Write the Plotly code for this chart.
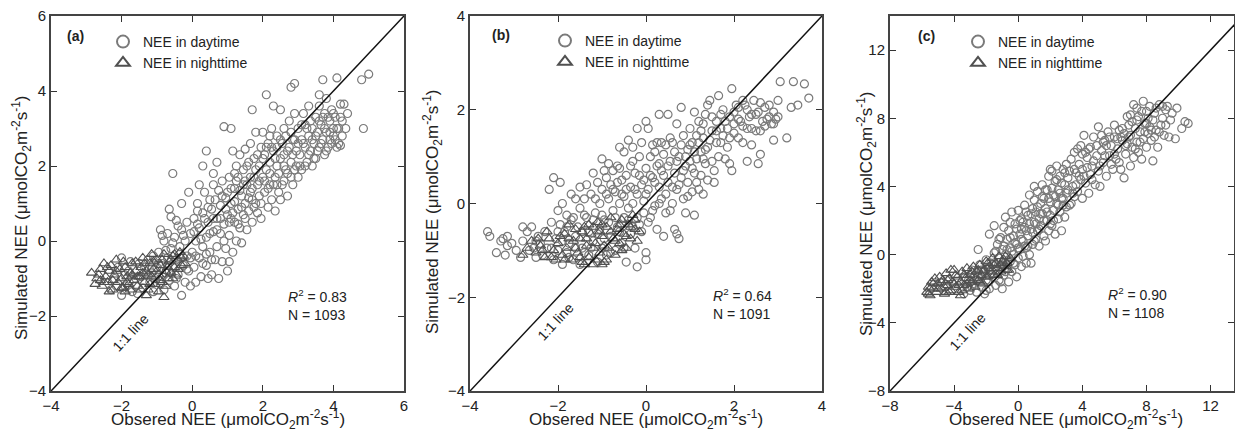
import plotly.graph_objects as go

W, H = 1235, 434
FONT = "Liberation Sans, Arial, sans-serif"

# ---------------- data ----------------
a_day = [
    (-2.3,-1.3),(-2.2,-1.0),(-2.0,-1.45),(-2.0,-0.45),(-1.9,-1.2),(-1.8,-0.8),(-1.7,-1.35),(-1.6,-1.0),(-1.5,-0.6),(-1.4,-1.25),
    (-1.3,-0.9),(-1.2,-1.1),(-1.1,-0.4),(-1.1,-1.35),(-1.0,-0.7),(-2.1,-0.7),(-1.75,-0.55),(-1.55,-1.4),(-1.25,-0.5),(-1.05,-1.0),
    (-0.95,-0.3),(-0.9,-1.15),(-0.9,0.3),(-0.85,-0.6),(-0.8,0.0),(-0.8,-1.3),(-0.75,-0.85),(-0.7,0.2),(-0.7,-0.45),(-0.65,-1.05),
    (-0.6,0.65),(-0.6,-0.2),(-0.55,-0.7),(-0.5,0.1),(-0.5,-1.2),(-0.45,-0.5),(-0.4,0.4),(-0.4,-0.9),(-0.35,-0.15),(-0.3,-1.45),
    (-0.3,0.3),(-0.25,-0.65),(-0.2,0.0),(-0.2,-1.1),(-0.15,0.5),(-0.15,-0.4),(-0.1,-0.8),(-0.05,0.2),(-0.05,-1.2),(0.0,-0.3),
    (-0.55,1.8),(-0.3,1.0),(-0.65,0.85),(-0.1,1.3),(-0.85,0.15),(-0.45,0.55),
    (0.05,0.6),(0.05,-0.7),(0.1,0.0),(0.1,-1.1),(0.15,1.0),(0.2,0.35),(0.2,-0.45),(0.25,-0.95),(0.3,2.0),(0.3,0.75),
    (0.3,-0.15),(0.35,1.3),(0.4,2.4),(0.4,0.1),(0.4,-0.65),(0.45,0.5),(0.5,1.1),(0.5,-0.3),(0.55,0.85),(0.55,-0.9),
    (0.6,0.25),(0.6,1.8),(0.65,-0.5),(0.7,2.1),(0.7,0.6),(0.7,-0.15),(0.75,1.35),(0.75,-1.0),(0.8,0.95),(0.8,0.2),
    (0.85,-0.55),(0.85,1.6),(0.9,3.05),(0.9,0.45),(0.95,-0.2),(0.95,1.15),(1.0,-0.8),(1.0,0.7),(0.2,1.5),(0.6,1.5),
    (0.15,0.8),(0.45,-1.0),
    (1.05,1.7),(1.05,0.15),(1.1,3.0),(1.1,1.0),(1.15,-0.3),(1.15,2.4),(1.2,0.5),(1.2,1.4),(1.25,0.0),(1.25,2.0),
    (1.3,0.85),(1.3,1.7),(1.35,0.35),(1.35,2.3),(1.4,1.2),(1.4,-0.05),(1.45,0.7),(1.45,1.9),(1.5,2.45),(1.5,1.0),
    (1.55,0.3),(1.55,1.5),(1.6,2.1),(1.6,0.8),(1.65,1.3),(1.65,2.6),(1.7,3.5),(1.7,0.5),(1.75,1.7),(1.75,2.2),
    (1.8,1.0),(1.8,2.9),(1.85,1.5),(1.85,0.75),(1.9,2.0),(1.9,1.2),(1.95,2.5),(1.95,0.6),(2.0,1.7),(2.0,2.9),
    (1.1,0.6),(1.5,1.6),(1.2,1.8),(1.7,1.1),
    (2.05,1.3),(2.05,2.3),(2.1,3.9),(2.1,1.9),(2.15,0.9),(2.15,2.6),(2.2,1.5),(2.2,2.1),(2.25,3.0),(2.25,1.1),
    (2.3,3.6),(2.3,2.4),(2.35,1.7),(2.35,0.8),(2.4,2.0),(2.4,2.8),(2.45,1.3),(2.5,3.5),(2.5,2.2),(2.5,1.1),
    (2.55,2.6),(2.6,1.6),(2.6,3.0),(2.65,1.9),(2.7,2.4),(2.7,1.2),(2.75,3.2),(2.8,4.1),(2.8,2.1),(2.85,1.5),
    (2.85,2.7),(2.9,4.2),(2.9,3.4),(2.9,1.9),(2.95,2.4),(3.0,1.7),(3.0,3.0),(2.2,2.8),(2.6,2.3),(2.4,1.5),(2.8,2.9),
    (3.05,2.3),(3.1,2.7),(3.1,1.9),(3.15,3.4),(3.2,2.5),(3.2,3.1),(3.25,2.1),(3.3,2.8),(3.3,3.6),(3.35,2.4),
    (3.4,3.0),(3.45,2.6),(3.5,3.3),(3.5,2.2),(3.55,2.9),(3.6,3.6),(3.6,2.5),(3.65,3.1),(3.7,4.3),(3.7,2.7),
    (3.75,3.4),(3.75,2.3),(3.8,3.8),(3.8,2.9),(3.85,2.5),(3.9,3.2),(3.9,2.7),(3.95,3.5),(4.0,2.8),(4.0,3.0),
    (3.4,2.0),(3.6,3.9),
    (4.05,3.3),(4.1,4.35),(4.1,2.5),(4.15,3.0),(4.2,3.65),(4.2,2.55),(4.25,3.2),(4.3,3.65),(4.35,3.0),(4.4,3.4),
    (4.8,4.3),(4.85,3.0),(5.0,4.45),(4.25,2.8),
    (-1.9,-0.9),(-1.6,-1.2),(-1.35,-0.7),(-1.15,-0.85),(-0.95,-0.6),(-0.85,-0.95),(-0.75,-0.25),(-0.65,-0.8),(-0.55,-0.05),(-0.45,-1.0),
    (-0.35,-0.35),(-0.25,0.15),(-0.15,-0.75),(-0.05,-0.45),(0.05,0.25),(0.1,-0.4),(0.15,0.45),(0.25,0.05),(0.3,-0.6),(0.35,0.6),
    (0.45,0.9),(0.5,0.2),(0.55,-0.5),(0.6,0.6),(0.65,1.1),(0.7,0.3),(0.8,0.6),(0.85,1.2),(0.9,0.0),(0.95,0.85),
    (1.0,1.3),(1.05,0.5),(1.1,1.4),(1.15,0.75),(1.2,1.05),(1.25,1.6),(1.3,0.45),(1.35,1.35),(1.4,0.9),(1.45,1.5),
    (1.5,0.6),(1.55,2.0),(1.6,1.15),(1.65,1.7),(1.7,1.4),(1.75,0.9),(1.8,1.9),(1.85,2.3),(1.9,1.6),(1.95,1.0),
    (2.0,2.2),(2.05,1.6),(2.1,2.5),(2.15,1.4),(2.2,1.8),(2.25,2.5),(2.3,1.5),(2.35,2.2),(2.4,2.5),(2.45,1.8),
    (2.5,2.7),(2.55,1.5),(2.6,2.0),(2.65,2.8),(2.7,1.8),(2.75,2.5),(2.8,1.7),(2.85,2.3),(2.9,2.7),(2.95,2.0),
    (3.0,2.6),(3.05,2.0),(3.1,3.1),(3.15,2.6),(3.2,2.0),(3.25,3.0),(3.3,2.3),(3.35,3.2),(3.4,2.7),(3.45,2.2),
    (3.5,2.8),(3.55,2.4),(3.6,3.2),(3.65,2.6),(3.7,3.3),(3.75,3.0),(3.8,2.4),(3.85,3.3),(3.9,2.9),(3.95,2.6),
    (4.0,3.4),(4.05,2.7),(4.1,3.0),(4.15,2.6),(4.2,3.3),(1.05,-0.55),(0.4,-0.35),(-0.7,-0.65),(-1.45,-0.95),(-2.15,-1.2),
]
a_night = [
    (-2.85,-0.85),(-2.75,-1.15),(-2.7,-1.0),(-2.6,-0.75),(-2.55,-1.2),(-2.5,-0.6),(-2.45,-0.95),(-2.4,-1.1),(-2.35,-0.8),(-2.3,-0.65),
    (-2.25,-1.3),(-2.2,-0.9),(-2.1,-1.1),(-2.05,-0.75),(-2.0,-1.0),(-1.95,-1.25),(-1.9,-0.7),(-1.85,-0.95),(-1.8,-1.15),(-1.75,-0.85),
    (-1.7,-0.6),(-1.65,-1.05),(-1.6,-0.8),(-1.55,-1.2),(-1.5,-0.95),(-1.45,-0.7),(-1.4,-0.45),(-1.35,-1.1),(-1.3,-0.8),(-1.25,-1.3),
    (-1.2,-0.6),(-1.15,-0.95),(-1.1,-0.75),(-1.05,-1.15),(-1.0,-0.5),(-0.95,-0.9),(-0.9,-0.65),(-0.85,-1.1),(-0.8,-1.5),(-0.8,-0.35),
    (-0.75,-0.8),(-0.7,-1.0),(-0.65,-0.55),(-0.6,-0.85),(-0.55,-0.4),(-0.5,-0.7),(-0.45,-0.9),(-0.4,-0.5),(-0.35,-0.3),(-0.3,-0.65),
    (-0.25,-0.4),(-1.3,-1.45),(-0.95,-1.35),(-2.15,-0.5),(-1.15,-0.35),
    (-2.65,-0.9),(-2.5,-1.1),(-2.4,-0.7),(-2.25,-1.05),(-2.15,-0.8),(-2.0,-1.25),(-1.95,-0.55),(-1.85,-1.1),(-1.75,-1.3),(-1.7,-0.9),
    (-1.6,-0.55),(-1.55,-0.95),(-1.45,-1.3),(-1.4,-0.85),(-1.35,-0.6),(-1.25,-0.9),(-1.2,-1.15),(-1.1,-0.55),(-1.0,-0.8),(-0.9,-1.05),
    (-0.85,-0.5),(-0.75,-1.2),(-0.7,-0.7),(-0.6,-0.5),(-0.55,-1.0),(-0.5,-0.35),(-0.4,-0.75),(-0.3,-0.45),(-0.2,-0.6),(-2.6,-1.05),
    (-2.35,-1.35),(-1.9,-1.35),
]

b_day = [
    (-3.6,-0.6),(-3.55,-0.7),(-3.4,-1.05),(-3.3,-0.8),(-3.25,-0.75),(-3.2,-1.1),(-3.15,-0.7),(-3.15,-0.9),(-2.95,-1.0),(-2.85,-1.15),
    (-2.8,-0.8),(-2.8,-0.5),(-2.7,-0.6),(-2.6,-0.5),(-2.55,-0.95),(-2.5,-1.15),(-2.45,-0.7),(-2.4,-0.85),(-2.35,-1.1),(-2.3,-0.6),(-2.25,-0.95),
    (-2.2,0.3),(-2.15,-0.4),(-2.1,0.55),(-2.1,-1.2),(-2.05,-0.75),(-2.0,-1.0),(-1.95,0.45),(-1.95,-0.45),(-1.9,-1.3),(-1.85,-0.6),
    (-1.8,-0.25),(-1.8,-1.05),(-1.75,-0.85),(-1.7,-0.35),(-1.65,-1.2),(-1.6,0.1),(-1.6,-0.7),(-1.55,-0.5),(-1.5,-1.3),(-1.5,0.35),
    (-1.45,-0.95),(-1.4,0.1),(-1.4,-0.25),(-1.35,0.4),(-1.3,-0.6),(-1.3,-1.1),(-1.25,0.2),(-1.2,-0.8),(-1.2,0.65),(-1.15,-0.2),
    (-1.1,-1.25),(-1.1,0.45),(-1.05,0.0),(-1.05,-0.55),(-1.0,0.95),(-1.0,-0.95),(-1.0,0.3),(-1.9,0.0),(-1.7,0.2),(-2.0,-0.15),
    (-0.95,0.7),(-0.95,-0.35),(-0.9,0.55),(-0.9,-1.1),(-0.85,0.1),(-0.85,0.85),(-0.8,-0.7),(-0.8,0.4),(-0.75,-0.15),(-0.75,0.7),
    (-0.7,-1.0),(-0.7,0.25),(-0.65,0.8),(-0.65,-0.5),(-0.6,0.75),(-0.6,0.0),(-0.55,-0.85),(-0.55,0.5),(-0.5,0.15),(-0.5,-0.3),
    (-0.45,-1.25),(-0.45,0.6),(-0.4,1.35),(-0.4,-0.1),(-0.35,0.35),(-0.35,-0.65),(-0.3,1.2),(-0.3,0.0),(-0.25,0.65),(-0.25,-0.95),
    (-0.2,1.6),(-0.2,0.2),(-0.2,-1.35),(-0.15,1.0),(-0.15,-0.45),(-0.1,1.3),(-0.1,0.4),(-0.05,-0.2),(-0.05,0.05),(0.0,1.75),
    (0.0,-1.05),(0.0,-1.2),(0.0,0.75),(-0.6,1.2),(-0.5,1.1),(-0.3,0.9),
    (0.05,0.3),(0.05,1.6),(0.1,-0.3),(0.1,1.0),(0.15,0.55),(0.15,1.25),(0.2,-0.05),(0.2,1.1),(0.25,0.8),(0.25,-0.55),
    (0.3,1.9),(0.3,0.35),(0.35,0.1),(0.35,1.3),(0.4,0.6),(0.4,-0.7),(0.45,1.25),(0.45,0.2),(0.5,1.9),(0.5,0.45),
    (0.55,-0.15),(0.55,0.9),(0.6,1.3),(0.6,0.0),(0.65,0.65),(0.65,-0.55),(0.7,1.7),(0.7,0.3),(0.75,1.0),(0.75,-0.75),
    (0.8,2.05),(0.8,0.55),(0.85,0.1),(0.85,1.45),(0.9,0.8),(0.9,-0.2),(0.95,1.15),(0.95,0.45),(1.0,0.9),(1.0,1.6),
    (0.7,-0.65),(0.3,0.85),
    (1.05,0.25),(1.05,1.3),(1.1,1.95),(1.1,-0.25),(1.1,0.65),(1.15,1.45),(1.15,0.95),(1.2,0.3),(1.2,1.75),(1.25,1.1),
    (1.25,0.6),(1.3,1.4),(1.3,0.2),(1.35,1.9),(1.35,0.85),(1.4,2.1),(1.4,1.2),(1.45,2.2),(1.5,0.9),(1.5,1.55),
    (1.55,0.45),(1.55,0.7),(1.6,1.3),(1.65,1.0),(1.7,1.6),(1.7,1.9),(1.75,1.45),(1.8,0.95),(1.8,1.75),(1.85,1.2),
    (1.9,1.85),(1.9,0.85),(1.95,2.45),(1.95,0.7),(2.0,1.7),(2.0,1.95),(1.3,0.95),(1.6,1.75),
    (2.05,2.1),(2.1,1.4),(2.15,1.75),(2.2,1.3),(2.25,2.1),(2.3,0.9),(2.3,1.6),(2.35,1.85),(2.4,1.25),(2.45,2.2),
    (2.5,1.55),(2.55,1.95),(2.55,0.85),(2.6,1.05),(2.65,1.75),(2.7,2.05),(2.75,1.8),(2.8,2.1),(2.85,1.7),(2.9,1.35),
    (2.9,1.95),(2.95,1.8),(3.0,2.2),(3.0,1.85),(3.05,2.6),(3.2,1.4),(3.3,2.05),(3.35,2.6),(3.45,2.1),(3.6,2.55),
    (3.7,2.25),(2.4,1.6),(2.1,1.8),
    (-2.15,-0.95),(-2.0,-0.6),(-1.9,-0.8),(-1.8,-0.5),(-1.75,-1.15),(-1.65,-0.3),(-1.6,-0.95),(-1.5,-0.1),(-1.45,-0.6),(-1.4,-1.05),
    (-1.35,-0.3),(-1.25,-0.95),(-1.2,-0.35),(-1.15,0.1),(-1.1,-0.65),(-1.0,-0.25),(-0.95,-0.75),(-0.9,0.2),(-0.85,-0.4),(-0.8,-1.05),
    (-0.75,0.3),(-0.7,-0.3),(-0.65,0.45),(-0.6,-0.6),(-0.55,0.2),(-0.5,-0.95),(-0.45,0.3),(-0.4,-0.35),(-0.35,0.8),(-0.3,-0.5),
    (-0.25,0.3),(-0.2,-0.3),(-0.15,0.6),(-0.1,-0.6),(-0.05,0.5),(0.0,0.2),(0.05,-0.4),(0.1,0.6),(0.15,-0.15),(0.2,0.45),
    (0.25,1.3),(0.3,0.0),(0.35,0.7),(0.4,1.05),(0.45,-0.2),(0.5,0.8),(0.55,1.4),(0.6,0.35),(0.65,1.1),(0.7,0.9),
    (0.75,0.4),(0.8,1.25),(0.85,0.7),(0.9,1.0),(0.95,0.15),(1.0,1.25),(1.05,0.75),(1.1,1.1),(1.15,0.45),(1.2,1.3),
    (1.25,1.55),(1.3,1.7),(1.35,1.15),(1.4,0.5),(1.45,1.35),(1.5,1.85),(1.6,1.55),(1.7,1.3),(1.75,2.0),(1.85,1.6),
    (1.9,1.4),(2.0,1.5),(2.1,2.05),(2.2,1.65),(2.3,2.0),(2.4,1.9),(2.5,1.9),(2.6,1.55),(2.7,1.65),(2.8,1.85),
    (2.9,1.7),(2.2,2.2),(2.6,2.15),(1.65,2.3),(-2.5,-0.8),(-2.65,-1.0),(-3.05,-0.85),
]
b_night = [
    (-2.8,-1.1),(-2.6,-0.8),(-2.5,-1.05),(-2.4,-0.9),(-2.3,-1.15),(-2.2,-0.75),(-2.1,-1.0),(-2.0,-0.85),(-1.9,-1.1),(-1.85,-0.65),
    (-1.8,-0.95),(-1.7,-1.2),(-1.65,-0.8),(-1.6,-0.55),(-1.55,-1.05),(-1.5,-0.75),(-1.45,-1.25),(-1.4,-0.5),(-1.35,-0.9),(-1.3,-1.15),
    (-1.25,-0.65),(-1.2,-1.3),(-1.15,-0.85),(-1.1,-0.4),(-1.05,-1.05),(-1.0,-0.7),(-0.95,-1.25),(-0.9,-0.5),(-0.85,-0.95),(-0.8,-0.3),
    (-0.75,-0.75),(-0.7,-1.1),(-0.65,-0.55),(-0.6,-0.85),(-0.55,-0.35),(-0.5,-0.65),(-0.45,-0.95),(-0.4,-0.45),(-0.35,-0.75),(-0.3,-0.25),
    (-0.25,-0.55),(-0.2,-0.8),(-1.0,-1.3),(-1.2,-0.5),(-1.75,-0.45),(-2.05,-1.2),
    (-2.7,-0.95),(-2.45,-0.75),(-2.35,-1.0),(-2.25,-0.6),(-2.15,-1.15),(-1.95,-0.7),(-1.85,-1.2),(-1.75,-0.75),(-1.6,-0.95),(-1.5,-1.15),
    (-1.45,-0.6),(-1.35,-0.75),(-1.3,-0.45),(-1.2,-0.95),(-1.15,-1.2),(-1.05,-0.6),(-0.95,-0.9),(-0.9,-1.2),(-0.8,-0.6),(-0.7,-0.8),
    (-0.6,-0.45),(-0.55,-1.0),(-0.45,-0.7),(-0.35,-0.5),(-0.25,-0.35),(-0.15,-0.6),(-1.4,-1.3),(-1.0,-0.45),
]

c_day = [
    (-3.4,-2.3),(-3.2,-1.9),(-3.1,-1.5),(-3.0,-2.1),(-2.9,-0.9),(-2.8,-1.7),(-2.6,-2.2),(-2.5,0.3),(-2.5,-1.3),(-2.4,-0.6),
    (-2.3,-1.9),(-2.2,-1.0),(-2.1,-2.3),(-2.0,-0.3),(-2.0,-1.5),(-1.9,-0.8),(-1.8,1.2),(-1.8,-2.0),(-1.7,-0.5),(-1.6,-1.3),
    (-1.5,1.7),(-1.5,0.1),(-1.4,-1.8),(-1.4,-0.9),(-1.3,0.6),(-1.2,-0.2),(-1.2,-1.5),(-1.1,1.0),(-1.1,-0.7),(-1.0,-2.0),
    (-1.0,0.3),(-2.7,-1.2),(-3.3,-1.3),
    (-0.9,1.6),(-0.9,-1.2),(-0.8,0.0),(-0.8,2.2),(-0.7,-0.8),(-0.7,0.9),(-0.6,-1.6),(-0.6,1.4),(-0.5,0.4),(-0.5,-0.4),
    (-0.4,2.5),(-0.4,-1.0),(-0.3,1.1),(-0.3,0.0),(-0.2,-0.6),(-0.2,1.8),(-0.1,0.6),(-0.1,-1.3),(0.0,2.6),(0.0,-0.2),
    (0.1,1.2),(0.1,0.3),(0.2,-0.7),(0.2,2.1),(0.3,0.8),(0.3,-0.1),(0.4,1.6),(0.4,2.9),(0.5,0.4),(0.5,-0.5),
    (0.6,2.3),(0.6,1.1),(0.7,3.5),(0.7,0.0),(0.8,1.5),(0.8,-0.5),(0.9,2.7),(0.9,0.6),(1.0,1.9),(1.0,3.2),(-0.5,1.9),(0.2,1.5),
    (1.1,0.9),(1.1,2.5),(1.2,3.7),(1.2,1.4),(1.3,2.1),(1.3,0.5),(1.4,3.0),(1.4,1.7),(1.5,2.4),(1.5,4.1),
    (1.6,1.1),(1.6,3.3),(1.7,2.7),(1.7,0.8),(1.8,3.8),(1.8,2.0),(1.9,4.6),(1.9,1.4),(2.0,3.1),(2.0,2.3),
    (2.1,4.9),(2.1,1.7),(2.2,3.5),(2.2,2.6),(2.3,4.3),(2.3,1.2),(2.4,3.0),(2.4,5.2),(2.5,2.1),(2.5,3.8),
    (2.6,4.6),(2.6,2.5),(2.7,1.4),(2.7,3.3),(2.8,5.0),(2.8,2.9),(2.9,4.1),(2.9,2.2),(3.0,3.6),(3.0,5.3),(1.0,4.0),(2.0,5.0),
    (3.1,4.5),(3.2,2.9),(3.3,3.0),(3.3,5.6),(3.4,4.0),(3.5,6.0),(3.5,3.4),(3.6,4.8),(3.7,3.7),(3.8,5.3),
    (3.9,4.4),(3.9,6.4),(4.0,3.3),(4.0,5.0),(4.1,7.0),(4.2,4.2),(4.3,5.7),(4.4,3.6),(4.5,6.3),(4.5,4.7),
    (4.6,5.2),(4.7,6.9),(4.8,4.1),(4.9,5.8),(5.0,7.5),(5.0,4.9),(5.1,4.0),(5.2,6.1),(5.3,5.4),(5.4,6.7),
    (5.5,4.6),(5.6,7.2),(5.7,5.8),(5.8,6.4),(5.9,5.0),(6.0,7.6),(6.0,6.9),(4.2,6.0),(3.7,6.2),(5.3,6.6),
    (6.1,5.6),(6.2,6.2),(6.3,7.3),(6.4,5.0),(6.5,6.7),(6.6,4.5),(6.6,7.1),(6.7,5.9),(6.8,6.5),(6.9,7.6),
    (7.0,5.2),(7.0,7.0),(7.1,6.3),(7.2,8.8),(7.2,5.7),(7.3,7.4),(7.4,6.6),(7.5,8.1),(7.5,6.0),(7.6,7.2),
    (7.7,5.6),(7.8,9.0),(7.8,6.8),(7.9,7.7),(8.0,8.4),(8.0,6.3),(8.1,7.1),(8.2,8.7),(8.3,6.7),(8.4,5.5),
    (8.4,7.9),(8.5,8.3),(8.6,7.3),(8.7,6.3),(8.8,8.8),(8.9,7.6),(9.0,8.0),(9.1,7.0),(9.2,8.5),(9.3,8.7),
    (9.4,6.9),(9.5,7.9),(9.8,6.8),(9.9,8.6),(10.2,7.4),(10.4,7.8),(10.6,7.7),(8.2,7.5),(7.0,8.2),(6.4,6.9),
    (-2.9,-1.9),(-2.6,-1.5),(-2.3,-0.9),(-2.0,-2.1),(-1.9,-1.6),(-1.7,-1.2),(-1.6,-0.6),(-1.4,0.2),(-1.3,-1.1),(-1.2,0.9),
    (-1.1,-1.6),(-1.0,-0.6),(-0.9,0.5),(-0.8,-1.0),(-0.7,0.3),(-0.6,-0.3),(-0.5,1.0),(-0.4,0.2),(-0.3,-0.5),(-0.2,0.7),
    (-0.1,1.5),(0.0,0.4),(0.1,2.0),(0.2,0.9),(0.3,1.9),(0.4,0.5),(0.5,1.4),(0.5,2.5),(0.6,0.5),(0.7,1.8),
    (0.8,2.4),(0.9,1.3),(1.0,0.8),(1.1,1.8),(1.2,2.8),(1.3,1.5),(1.4,2.4),(1.5,3.4),(1.6,2.0),(1.7,3.8),
    (1.8,2.5),(1.9,3.3),(2.0,1.8),(2.1,3.9),(2.2,2.0),(2.3,3.4),(2.4,4.4),(2.5,2.9),(2.6,3.6),(2.7,4.2),
    (2.8,3.3),(2.9,4.8),(3.0,2.8),(3.1,3.8),(3.2,4.9),(3.4,3.6),(3.5,5.0),(3.6,4.1),(3.8,4.6),(4.0,5.9),
    (4.1,4.6),(4.3,5.1),(4.4,6.2),(4.6,4.4),(4.7,5.5),(4.9,6.4),(5.1,5.2),(5.2,7.0),(5.4,5.8),(5.5,6.4),
    (5.7,6.9),(5.8,5.3),(6.0,5.9),(6.2,6.8),(6.3,5.4),(6.5,7.4),(6.7,6.4),(6.9,6.9),(7.1,7.8),(7.3,6.2),
    (7.4,7.9),(7.6,6.6),(7.7,8.4),(7.9,7.2),(8.1,8.0),(8.3,7.3),(8.5,6.9),(8.6,8.6),(8.8,7.2),(9.0,8.7),
    (9.2,7.6),(9.6,8.3),(6.8,8.1),(7.4,8.6),(8.0,7.7),
]
c_night = [
    (-5.7,-2.2),(-5.6,-1.9),(-5.5,-2.4),(-5.4,-1.6),(-5.3,-2.0),(-5.2,-1.4),(-5.1,-2.2),(-5.0,-1.7),(-4.9,-1.3),(-4.8,-2.0),
    (-4.7,-1.5),(-4.6,-2.3),(-4.5,-1.1),(-4.4,-1.8),(-4.3,-1.4),(-4.2,-2.1),(-4.1,-1.6),(-4.0,-0.9),(-3.9,-1.9),(-3.8,-1.3),
    (-3.7,-2.2),(-3.6,-1.6),(-3.5,-1.0),(-3.4,-1.8),(-3.3,-1.4),(-3.2,-0.8),(-3.1,-2.0),(-3.0,-1.2),(-2.9,-1.6),(-2.8,-0.7),
    (-2.7,-1.9),(-2.6,-1.0),(-2.5,-1.5),(-2.4,-0.6),(-2.3,-1.2),(-2.2,-1.7),(-2.1,-0.9),(-2.0,-0.4),(-1.9,-1.3),(-1.8,-0.7),
    (-1.7,-1.0),(-1.6,-0.2),(-1.5,-1.2),(-1.4,-0.5),(-1.3,-0.8),(-1.2,-0.1),(-1.1,-1.0),(-1.0,-0.4),(-0.9,-0.7),(-0.8,-0.1),
    (-0.7,-0.5),(-0.6,-0.9),(-0.5,-0.2),(-4.2,-0.9),(-3.6,-2.4),
    (-5.5,-2.0),(-5.3,-1.7),(-5.0,-2.0),(-4.8,-1.6),(-4.6,-1.9),(-4.4,-1.5),(-4.3,-2.2),(-4.0,-1.7),(-3.9,-1.2),(-3.7,-1.8),
    (-3.5,-2.1),(-3.4,-1.2),(-3.2,-1.7),(-3.0,-1.5),(-2.9,-1.0),(-2.7,-1.4),(-2.5,-0.9),(-2.4,-1.6),(-2.2,-1.0),(-2.0,-1.3),
    (-1.9,-0.5),(-1.7,-0.8),(-1.5,-0.6),(-1.3,-1.2),(-1.1,-0.6),(-0.9,-0.3),(-0.7,-0.9),(-5.6,-2.3),(-4.5,-2.2),
]

panel_labels = ["(a)", "(b)", "(c)"]
r2_values = ["0.83", "0.64", "0.90"]
n_values = ["1093", "1091", "1108"]
x_ranges = [[-4, 6], [-4, 4], [-8, 13.46]]
y_ranges = [[-4, 6], [-4, 4], [-8, 14]]
x_ticks = [[-4, -2, 0, 2, 4, 6], [-4, -2, 0, 2, 4], [-8, -4, 0, 4, 8, 12]]
y_ticks = [[-4, -2, 0, 2, 4, 6], [-4, -2, 0, 2, 4], [-8, -4, 0, 4, 8, 12]]

# ---------------- layout geometry (pixels) ----------------
def fx(px):
    return px / W

def fy(py):
    return 1 - py / H

x_px = [(51, 404), (470, 822), (890, 1234)]
y_px = (16, 391)
ytitle_px = [(21, 218), (432, 212), (866, 214)]
xtitle_cx = [228, 646, 1066]
plabel_px = [(65, 36), (490, 35), (916, 36)]
stats_px = [(286, 305), (711, 304), (1106, 303)]
line_lbl_px = [(130, 333), (555, 322), (967, 332)]
legend_px = [(103, 26), (545, 25), (958, 26)]

fig = go.Figure()
datasets = [(a_day, a_night), (b_day, b_night), (c_day, c_night)]
legend_ids = ["legend", "legend2", "legend3"]

for i, (day, night) in enumerate(datasets):
    xa = "x" if i == 0 else f"x{i+1}"
    ya = "y" if i == 0 else f"y{i+1}"
    fig.add_trace(go.Scatter(
        x=[p[0] for p in day], y=[p[1] for p in day], mode="markers",
        name="NEE in daytime", xaxis=xa, yaxis=ya, legend=legend_ids[i],
        marker=dict(symbol="circle-open", size=8, color="#7a7a7a", line=dict(width=1.2, color="#7a7a7a")),
    ))
    fig.add_trace(go.Scatter(
        x=[p[0] for p in night], y=[p[1] for p in night], mode="markers",
        name="NEE in nighttime", xaxis=xa, yaxis=ya, legend=legend_ids[i],
        marker=dict(symbol="triangle-up-open", size=9, color="#505050", line=dict(width=1.1, color="#505050")),
    ))
    lo = min(x_ranges[i][0], y_ranges[i][0])
    hi = max(x_ranges[i][1], y_ranges[i][1])
    fig.add_trace(go.Scatter(
        x=[lo, hi], y=[lo, hi], mode="lines", showlegend=False,
        xaxis=xa, yaxis=ya, line=dict(color="#111111", width=1.5), hoverinfo="skip",
    ))

axis_common = dict(
    showline=True, linewidth=2, linecolor="#444444", mirror="ticks",
    ticks="inside", ticklen=6, tickwidth=1.3, tickcolor="#333333",
    showgrid=False, zeroline=False,
    tickfont=dict(family=FONT, size=15, color="#222222"),
)

layout = dict(
    width=W, height=H, margin=dict(l=0, r=0, t=0, b=0, autoexpand=False),
    paper_bgcolor="white", plot_bgcolor="white", showlegend=True,
)
annotations = []
units = "(\u03bcmolCO<sub>2</sub>m<sup>-2</sup>s<sup>-1</sup>)"
for i in range(3):
    sx = "" if i == 0 else str(i + 1)
    layout[f"xaxis{sx}"] = dict(
        domain=[fx(x_px[i][0]), fx(x_px[i][1])], range=x_ranges[i],
        tickvals=x_ticks[i], anchor=f"y{sx}", **axis_common)
    layout[f"yaxis{sx}"] = dict(
        domain=[fy(y_px[1]), fy(y_px[0])], range=y_ranges[i],
        tickvals=y_ticks[i], anchor=f"x{sx}", **axis_common)
    lx, ly = legend_px[i]
    layout[legend_ids[i]] = dict(
        x=fx(lx), y=fy(ly), xanchor="left", yanchor="top",
        bgcolor="rgba(0,0,0,0)", borderwidth=0, tracegroupgap=0,
        itemwidth=30, itemsizing="constant",
        font=dict(family=FONT, size=14, color="#222222"),
    )
    annotations.append(dict(
        text="Simulated NEE " + units, textangle=-90, showarrow=False,
        xref="paper", yref="paper", x=fx(ytitle_px[i][0]), y=fy(ytitle_px[i][1]),
        xanchor="center", yanchor="middle", font=dict(family=FONT, size=17, color="#222222")))
    annotations.append(dict(
        text="Obsered NEE " + units, showarrow=False,
        xref="paper", yref="paper", x=fx(xtitle_cx[i]), y=fy(419),
        xanchor="center", yanchor="middle", font=dict(family=FONT, size=17, color="#222222")))
    annotations.append(dict(
        text=f"<b>{panel_labels[i]}</b>", showarrow=False,
        xref="paper", yref="paper", x=fx(plabel_px[i][0]), y=fy(plabel_px[i][1]),
        xanchor="left", yanchor="middle", font=dict(family=FONT, size=14, color="#222222")))
    annotations.append(dict(
        text=f"<i>R</i><sup>2</sup> = {r2_values[i]}<br>N = {n_values[i]}", showarrow=False, align="left",
        xref="paper", yref="paper", x=fx(stats_px[i][0]), y=fy(stats_px[i][1]),
        xanchor="left", yanchor="middle", font=dict(family=FONT, size=14, color="#222222")))
    annotations.append(dict(
        text="1:1 line", textangle=-47, showarrow=False,
        xref="paper", yref="paper", x=fx(line_lbl_px[i][0]), y=fy(line_lbl_px[i][1]),
        xanchor="center", yanchor="middle", font=dict(family=FONT, size=14, color="#222222")))

layout["annotations"] = annotations
fig.update_layout(**layout)
fig.write_html("out.html")
